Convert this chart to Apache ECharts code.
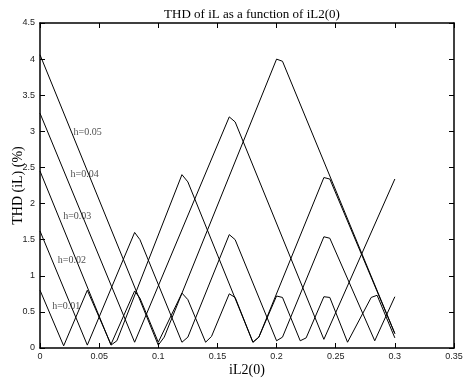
<!DOCTYPE html>
<html>
<head>
<meta charset="utf-8">
<script src="https://cdn.jsdelivr.net/npm/echarts@6/dist/echarts.min.js"></script>
<style>
  html, body { margin: 0; padding: 0; background: #fff; }
  #chart { width: 463px; height: 382px; }
</style>
</head>
<body>
<div id="chart"></div>
<script>
// axis ticks
const xTicks = [0, 0.05, 0.1, 0.15, 0.2, 0.25, 0.3, 0.35];
const yTicks = [0, 0.5, 1, 1.5, 2, 2.5, 3, 3.5, 4, 4.5];

// THD curves, vertices: [iL2(0), THD %]
const h001 = [[0, 0.80], [0.02, 0.03], [0.04, 0.80], [0.06, 0.05], [0.08, 0.79], [0.0845, 0.69],
  [0.1, 0.08], [0.12, 0.76], [0.125, 0.67], [0.14, 0.08], [0.145, 0.16], [0.16, 0.75], [0.165, 0.70],
  [0.18, 0.08], [0.185, 0.15], [0.2, 0.72], [0.205, 0.70], [0.22, 0.10], [0.225, 0.14], [0.24, 0.71],
  [0.245, 0.70], [0.26, 0.08], [0.28, 0.70], [0.285, 0.73], [0.3, 0.14]];
const h002 = [[0, 1.62], [0.04, 0.04], [0.08, 1.60], [0.0845, 1.50], [0.12, 0.08], [0.125, 0.15],
  [0.16, 1.57], [0.165, 1.50], [0.2, 0.10], [0.205, 0.15], [0.24, 1.54], [0.245, 1.52],
  [0.283, 0.10], [0.3, 0.71]];
const h003 = [[0, 2.45], [0.06, 0.04], [0.065, 0.10], [0.12, 2.40], [0.125, 2.30], [0.18, 0.08],
  [0.185, 0.15], [0.24, 2.36], [0.245, 2.34], [0.3, 0.20]];
const h004 = [[0, 3.25], [0.08, 0.08], [0.16, 3.20], [0.165, 3.13], [0.24, 0.12], [0.3, 2.34]];
const h005 = [[0, 4.06], [0.1, 0.04], [0.105, 0.15], [0.2, 4.00], [0.205, 3.97], [0.3, 0.20]];

// curve annotations
const labelText = ['h=0.01', 'h=0.02', 'h=0.03', 'h=0.04', 'h=0.05'];
const labelX = [0.0099, 0.0146, 0.0192, 0.0254, 0.0279];
const labelY = [0.57, 1.22, 1.82, 2.40, 2.98];

const chart = echarts.init(document.getElementById('chart'));

const serif = 'Liberation Serif';
const sans = 'Liberation Sans';

const curves = [h001, h002, h003, h004, h005].map(function (d) {
  return {
    type: 'line',
    data: d,
    symbol: 'none',
    lineStyle: { color: '#000', width: 1 },
    z: 2,
  };
});

const labelPoints = labelText.map(function (t, i) {
  return { name: t, value: [labelX[i], labelY[i]] };
});

const frameAxis = {
  axisLine: { show: true, onZero: false, lineStyle: { color: '#000', width: 1.5 } },
  axisTick: { show: true, inside: true, length: 5, lineStyle: { color: '#000', width: 1 } },
  splitLine: { show: false },
};

const xRange = {
  type: 'value',
  min: xTicks[0],
  max: xTicks[xTicks.length - 1],
  interval: xTicks[1] - xTicks[0],
};
const yRange = {
  type: 'value',
  min: yTicks[0],
  max: yTicks[yTicks.length - 1],
  interval: yTicks[1] - yTicks[0],
};

const options = {
  animation: false,
  backgroundColor: '#fff',
  title: {
    text: 'THD of iL as a function of iL2(0)',
    left: 247,
    textAlign: 'center',
    top: 3,
    textStyle: { fontFamily: serif, fontSize: 13, fontWeight: 'normal', color: '#000' },
  },
  grid: { left: 40, right: 9, top: 23, bottom: 34, containLabel: false, outerBoundsMode: 'none' },
  xAxis: [
    Object.assign({}, frameAxis, xRange, {
      position: 'bottom',
      name: 'iL2(0)',
      nameLocation: 'middle',
      nameGap: 15,
      nameMoveOverlap: false,
      nameTextStyle: { fontFamily: serif, fontSize: 14, color: '#000' },
      axisLabel: { fontFamily: sans, fontSize: 9, color: '#222', margin: 4 },
    }),
    Object.assign({}, frameAxis, xRange, {
      position: 'top',
      axisLabel: { show: false },
    }),
  ],
  yAxis: [
    Object.assign({}, frameAxis, yRange, {
      position: 'left',
      name: 'THD (iL) (%)',
      nameLocation: 'middle',
      nameGap: 15,
      nameMoveOverlap: false,
      nameTextStyle: { fontFamily: serif, fontSize: 14, color: '#000' },
      axisLabel: { fontFamily: sans, fontSize: 9, color: '#222', margin: 5 },
    }),
    Object.assign({}, frameAxis, yRange, {
      position: 'right',
      axisLabel: { show: false },
    }),
  ],
  series: curves.concat([
    {
      type: 'scatter',
      data: labelPoints,
      symbolSize: 1,
      itemStyle: { color: 'rgba(0,0,0,0)' },
      label: {
        show: true,
        position: 'right',
        distance: 0,
        formatter: '{b}',
        fontFamily: serif,
        fontSize: 10,
        color: '#222',
      },
      z: 3,
    },
  ]),
};

chart.setOption(options);
</script>
</body>
</html>
